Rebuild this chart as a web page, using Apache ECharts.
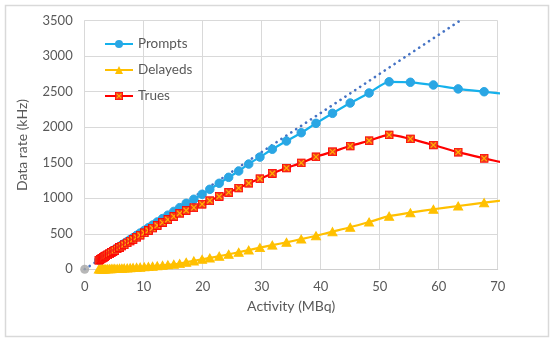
<!DOCTYPE html>
<html>
<head>
<meta charset="utf-8">
<script src="https://cdn.jsdelivr.net/npm/echarts@6/dist/echarts.min.js"></script>
<style>
html,body{margin:0;padding:0;background:#fff;}
#chart{width:550px;height:338px;}
</style>
</head>
<body>
<div id="chart"></div>
<script>
// Activity (MBq)
var activity = [2.4, 2.6, 2.8, 3.0, 3.2, 3.4, 3.6, 3.9, 4.2, 4.5, 4.8, 5.1, 5.5, 5.9, 6.3, 6.7, 7.2, 7.7, 8.2, 8.8, 9.4, 10.1, 10.8, 11.5, 12.3, 13.2, 14.1, 15.1, 16.1, 17.2, 18.5, 19.9, 21.2, 22.8, 24.4, 26.1, 27.8, 29.7, 31.8, 34.2, 36.7, 39.2, 42.0, 45.0, 48.2, 51.6, 55.2, 59.1, 63.3, 67.7, 72.4];
// Data rates (kHz)
var prompts = [130, 141, 152, 163, 174, 185, 196, 212, 228, 245, 261, 277, 299, 321, 342, 364, 391, 418, 445, 478, 510, 548, 585, 623, 666, 714, 762, 815, 868, 929, 986, 1056, 1126, 1211, 1295, 1384, 1482, 1580, 1690, 1806, 1923, 2055, 2196, 2341, 2482, 2640, 2633, 2595, 2540, 2500, 2460];
var delayeds = [3, 3, 4, 4, 5, 5, 6, 7, 8, 9, 10, 11, 12, 14, 15, 17, 19, 21, 24, 27, 30, 34, 38, 43, 48, 55, 62, 70, 80, 100, 118, 140, 160, 185, 212, 240, 270, 305, 340, 380, 425, 472, 530, 592, 666, 748, 797, 845, 891, 938, 985];
var trues = [127, 138, 148, 159, 169, 180, 190, 205, 220, 236, 251, 266, 287, 307, 327, 347, 372, 397, 421, 451, 480, 514, 547, 580, 618, 659, 700, 745, 788, 829, 868, 916, 966, 1026, 1083, 1144, 1212, 1275, 1350, 1426, 1498, 1583, 1655, 1735, 1810, 1892, 1836, 1750, 1649, 1562, 1475];
// Linear reference (dotted) end points
var refActivity = [0, 63.6];
var refRate = [0, 3500];
var originPoint = [[0, 0]];
var xTicks = [0, 10, 20, 30, 40, 50, 60, 70];
var yTicks = [0, 500, 1000, 1500, 2000, 2500, 3000, 3500];

function pairs(xs, ys){ return xs.map(function(x,i){ return [x, ys[i]]; }); }

var truesSvg = '<svg xmlns="http://www.w3.org/2000/svg" width="20" height="20" viewBox="0 0 20 20">' +
  '<rect x="1" y="1" width="18" height="18" fill="#f23a1c" stroke="#ff0000" stroke-width="2"/>' +
  '<path d="M4 4 L16 16 M16 4 L4 16" stroke="#ffb300" stroke-width="2.6" fill="none"/></svg>';
var truesSymbol = 'image://data:image/svg+xml;charset=utf-8,' + encodeURIComponent(truesSvg);

var chart = echarts.init(document.getElementById('chart'), null, {renderer: 'canvas'});
var font = 'Lato, "Open Sans", sans-serif';
chart.setOption({
  animation: false,
  backgroundColor: '#ffffff',
  textStyle: {fontFamily: font},
  graphic: [{
    type: 'rect', left: 3, top: 3, z: -10,
    shape: {width: 543, height: 331},
    style: {fill: 'none', stroke: '#d9d9d9', lineWidth: 1.5}
  }],
  grid: {left: 84.7, right: 52.3, top: 20.7, bottom: 68.7, containLabel: false},
  legend: {
    orient: 'vertical', left: 104, top: 37, padding: 0,
    itemWidth: 28, itemHeight: 10, itemGap: 12,
    data: ['Prompts', 'Delayeds', 'Trues'],
    textStyle: {fontFamily: font, fontSize: 13.5, color: '#595959'}
  },
  xAxis: {
    type: 'value', min: 0, max: 70, interval: 10,
    name: 'Activity (MBq)', nameLocation: 'middle', nameGap: 30,
    nameTextStyle: {fontFamily: font, fontSize: 14, color: '#595959'},
    axisLine: {show: true, lineStyle: {color: '#cfcfcf', width: 1}},
    axisTick: {show: false},
    axisLabel: {margin: 11, fontSize: 13, color: '#595959', fontFamily: font,
      formatter: function(v){ return xTicks.indexOf(v) >= 0 ? String(v) : ''; }},
    splitLine: {show: true, lineStyle: {color: '#d9d9d9', width: 1}}
  },
  yAxis: {
    type: 'value', min: 0, max: 3500, interval: 500,
    name: 'Data rate (kHz)', nameLocation: 'middle', nameGap: 55,
    nameTextStyle: {fontFamily: font, fontSize: 14, color: '#595959'},
    axisLine: {show: true, lineStyle: {color: '#d9d9d9', width: 1}},
    axisTick: {show: false},
    axisLabel: {margin: 12, fontSize: 13, color: '#595959', fontFamily: font,
      formatter: function(v){ return yTicks.indexOf(v) >= 0 ? String(v) : ''; }},
    splitLine: {show: true, lineStyle: {color: '#d9d9d9', width: 1}}
  },
  series: [
    {
      name: 'Linear', type: 'line', data: pairs(refActivity, refRate),
      showSymbol: false, symbol: 'none', silent: true, z: 1,
      lineStyle: {color: '#4472c4', width: 2.6, type: [0.1, 5.8], cap: 'round'}
    },
    {
      name: 'Origin', type: 'scatter', data: originPoint, symbol: 'circle', symbolSize: 9,
      clip: false, itemStyle: {color: '#a5a5a5'}, z: 3
    },
    {
      name: 'Prompts', type: 'line', data: pairs(activity, prompts), smooth: 0.25,
      symbol: 'circle', symbolSize: 8.5, showAllSymbol: true, clip: true,
      lineStyle: {color: '#15b1ec', width: 2.2},
      itemStyle: {color: '#2aa6e4', borderColor: '#2aa6e4'}, z: 2
    },
    {
      name: 'Delayeds', type: 'line', data: pairs(activity, delayeds), smooth: 0.25,
      symbol: 'triangle', symbolSize: [9, 8], showAllSymbol: true, clip: true,
      lineStyle: {color: '#ffc000', width: 2.2},
      itemStyle: {color: '#ffc000', borderColor: '#ffc000'}, z: 2
    },
    {
      name: 'Trues', type: 'line', data: pairs(activity, trues), smooth: 0.25,
      symbol: truesSymbol, symbolSize: 9, showAllSymbol: true, clip: true,
      lineStyle: {color: '#ff0000', width: 2.2},
      itemStyle: {color: '#ff0000'}, z: 2
    }
  ]
});
</script>
</body>
</html>
